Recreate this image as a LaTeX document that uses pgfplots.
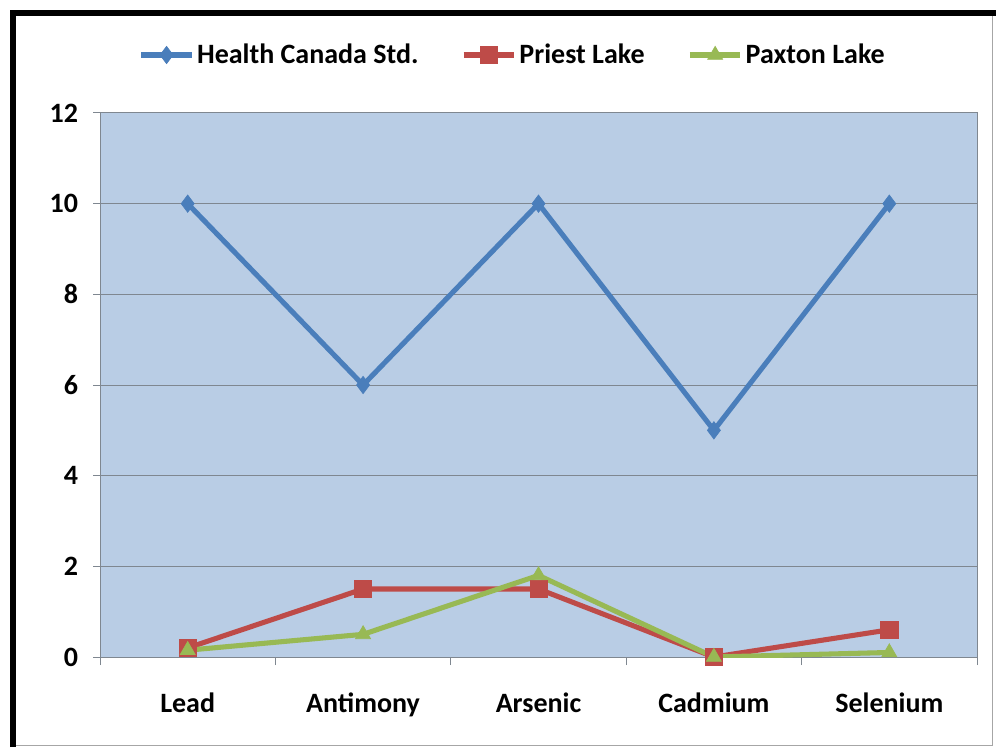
\documentclass[border=0pt]{standalone}
\usepackage{fontspec}
\setmainfont{Carlito}
\usepackage{pgfplots}
\pgfplotsset{compat=1.18}
\definecolor{hcblue}{HTML}{4A7EBB}
\definecolor{plred}{HTML}{BE4B48}
\definecolor{pxgreen}{HTML}{98B954}
\definecolor{plotbg}{HTML}{B9CDE5}
\definecolor{gridgray}{HTML}{7F8790}
\begin{document}
\begin{tikzpicture}
\useasboundingbox (0,0) rectangle (747pt,560.25pt);
\fill[white] (0,0) rectangle (747pt,560.25pt);
\draw[gray!70, line width=0.75pt] (10pt,1.5pt) -- (744pt,1.5pt) -- (744pt,550pt);
\draw[line width=4.5pt] (9.75pt,0pt) -- (9.75pt,550.5pt) -- (747pt,550.5pt);
\begin{axis}[
  at={(75pt,67.5pt)}, anchor=south west,
  scale only axis, width=657.75pt, height=408pt,
  xmin=-0.5, xmax=4.5, ymin=0, ymax=12,
  xtick={0,1,2,3,4},
  xticklabels={Lead,Antimony,Arsenic,Cadmium,Selenium},
  minor xtick={-0.5,0.5,1.5,2.5,3.5,4.5},
  ytick={0,2,4,6,8,10,12},
  /pgf/number format/assume math mode=true,
  major x tick style={draw=none},
  minor tick length=6pt, major tick length=5pt,
  tick align=outside, tick pos=left,
  tick style={draw=gridgray, line width=0.75pt},
  axis line style={draw=gridgray, line width=0.75pt},
  axis background/.style={fill=plotbg},
  ymajorgrids, grid style={draw=gridgray, line width=0.75pt},
  tick label style={font=\fontsize{21}{24}\selectfont\bfseries},
  xticklabel style={yshift=-18pt},
  yticklabel style={xshift=-8pt},
  legend style={at={(0.471,1.1066)}, anchor=center, draw=none, fill=none,
    font=\fontsize{21}{24}\selectfont\bfseries, legend columns=3,
    /tikz/every even column/.append style={column sep=30pt},
    legend cell align=left},
  legend image code/.code={\draw[mark repeat=2,mark phase=2] plot coordinates {(0pt,0pt)(19pt,0pt)(38pt,0pt)};},
]
\addplot[hcblue, line width=3.8pt, mark=diamond*, mark size=6.5pt, mark options={line width=0.5pt}]
  coordinates {(0,10) (1,6) (2,10) (3,5) (4,10)};
\addplot[plred, line width=3.8pt, mark=square*, mark size=6.5pt, mark options={line width=0.5pt}]
  coordinates {(0,0.2) (1,1.5) (2,1.5) (3,0) (4,0.6)};
\addplot[pxgreen, line width=3.8pt, mark=triangle*, mark size=6.5pt, mark options={line width=0.5pt}]
  coordinates {(0,0.15) (1,0.5) (2,1.8) (3,0) (4,0.1)};
\legend{Health Canada Std.,Priest Lake,Paxton Lake}
\end{axis}
\end{tikzpicture}
\end{document}
